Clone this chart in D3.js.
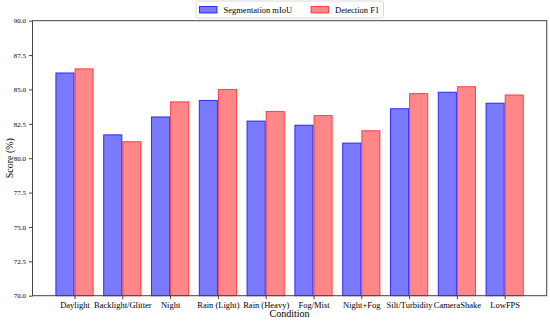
<!DOCTYPE html>
<html>
<head>
<meta charset="utf-8">
<script src="https://cdn.jsdelivr.net/npm/d3@7"></script>
<style>
  html, body { margin: 0; padding: 0; background: #fff; }
  svg { display: block; }
  text { font-family: "Liberation Serif", "Times New Roman", serif; fill: #000; }
</style>
</head>
<body>
<svg id="chart" width="550" height="322"></svg>
<script>
const categories = ["Daylight", "Backlight/Glitter", "Night", "Rain (Light)", "Rain (Heavy)", "Fog/Mist", "Night+Fog", "Silt/Turbidity", "CameraShake", "LowFPS"];
const segmentation = [86.2, 81.7, 83.0, 84.2, 82.7, 82.4, 81.1, 83.6, 84.8, 84.0];
const detection = [86.5, 81.2, 84.1, 85.0, 83.4, 83.1, 82.0, 84.7, 85.2, 84.6];
const seriesNames = ["Segmentation mIoU", "Detection F1"];
const yTicks = [70.0, 72.5, 75.0, 77.5, 80.0, 82.5, 85.0, 87.5, 90.0];

const svg = d3.select("#chart");
const margin = { left: 32.5, right: 3.3, top: 20.7, bottom: 26.3 };
const W = 550, H = 322;
const pw = W - margin.left - margin.right;
const ph = H - margin.top - margin.bottom;

const barW = 0.38, off = 0.2;
const lo = -off - barW / 2, hi = categories.length - 1 + off + barW / 2;
const pad = (hi - lo) * 0.05;
const x = d3.scaleLinear().domain([lo - pad, hi + pad]).range([margin.left, margin.left + pw]);
const y = d3.scaleLinear().domain([70, 90]).range([margin.top + ph, margin.top]);

const g = svg.append("g");

const series = [
  { name: seriesNames[0], values: segmentation, dx: -off, fill: "rgba(0,0,255,0.52)", stroke: "rgba(0,0,255,0.75)" },
  { name: seriesNames[1], values: detection, dx: off, fill: "rgba(255,0,0,0.47)", stroke: "rgba(255,0,0,0.65)" }
];

series.forEach(s => {
  g.selectAll(null).data(s.values).enter().append("rect")
    .attr("x", (d, i) => x(i + s.dx - barW / 2))
    .attr("width", (d, i) => x(i + s.dx + barW / 2) - x(i + s.dx - barW / 2))
    .attr("y", d => y(d))
    .attr("height", d => y(70) - y(d))
    .attr("fill", s.fill)
    .attr("stroke", s.stroke)
    .attr("stroke-width", 1);
});

// frame
g.append("rect")
  .attr("x", margin.left).attr("y", margin.top)
  .attr("width", pw).attr("height", ph)
  .attr("fill", "none").attr("stroke", "#444").attr("stroke-width", 1);

// axes
const xAxis = d3.axisBottom(x)
  .tickValues(d3.range(categories.length))
  .tickFormat(i => categories[i])
  .tickSizeInner(3.5).tickSizeOuter(0).tickPadding(3);
const gx = svg.append("g").attr("transform", `translate(0,${margin.top + ph})`).call(xAxis);
gx.select(".domain").remove();
gx.selectAll("line").attr("stroke", "#444");
gx.selectAll("text").style("font-size", "8.5px").style("font-family", "Liberation Serif, serif");

const yAxis = d3.axisLeft(y)
  .tickValues(yTicks)
  .tickFormat(d3.format(".1f"))
  .tickSizeInner(3.5).tickSizeOuter(0).tickPadding(3);
const gy = svg.append("g").attr("transform", `translate(${margin.left},0)`).call(yAxis);
gy.select(".domain").remove();
gy.selectAll("line").attr("stroke", "#444");
gy.selectAll("text").style("font-size", "7px").style("font-family", "Liberation Serif, serif");

// axis labels
svg.append("text")
  .attr("x", margin.left + pw / 2).attr("y", 317)
  .attr("text-anchor", "middle")
  .style("font-size", "10px")
  .text("Condition");

svg.append("text")
  .attr("transform", `translate(12.5,${margin.top + ph / 2}) rotate(-90)`)
  .attr("text-anchor", "middle")
  .style("font-size", "10px")
  .text("Score (%)");

// legend
const lg = svg.append("g");
lg.append("rect")
  .attr("x", 196).attr("y", 1).attr("width", 187.5).attr("height", 17)
  .attr("rx", 2).attr("fill", "#fff").attr("stroke", "#d0d0d0").attr("stroke-width", 0.8);
const legendItems = [
  { s: series[0], px: 199.5, tx: 223.5 },
  { s: series[1], px: 311, tx: 335 }
];
legendItems.forEach(it => {
  lg.append("rect")
    .attr("x", it.px).attr("y", 6.5).attr("width", 17.5).attr("height", 6.5)
    .attr("fill", it.s.fill).attr("stroke", it.s.stroke).attr("stroke-width", 1);
  lg.append("text")
    .attr("x", it.tx).attr("y", 13)
    .style("font-size", "8.5px")
    .text(it.s.name);
});
</script>
</body>
</html>
